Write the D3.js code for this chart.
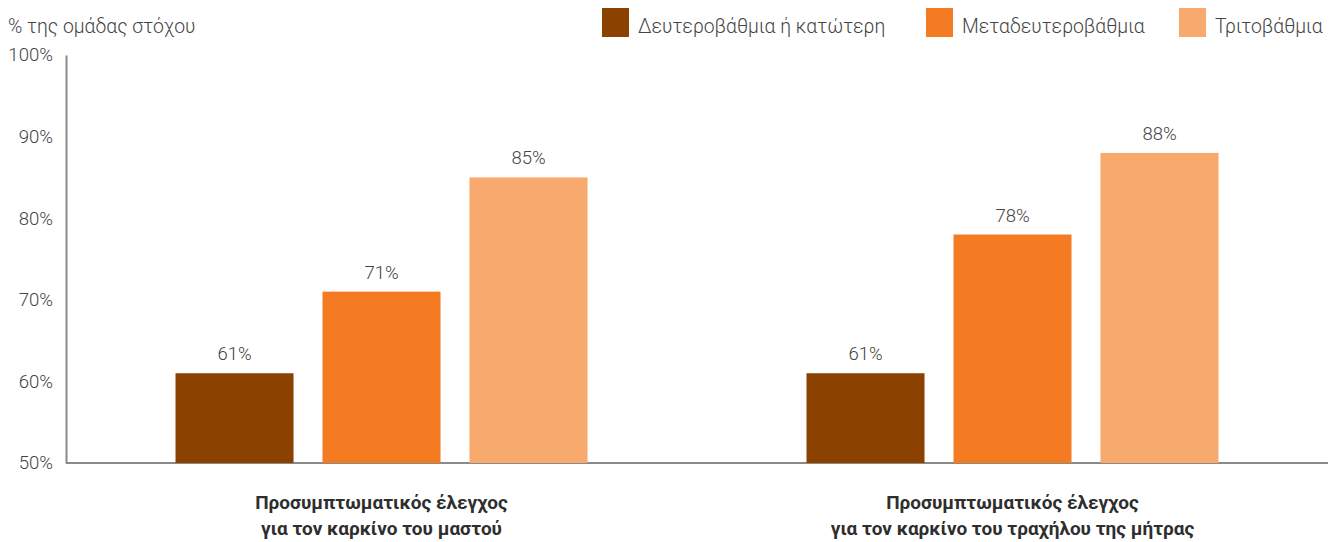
<!DOCTYPE html>
<html><head><meta charset="utf-8">
<script src="https://cdn.jsdelivr.net/npm/d3@7"></script>
<style>body{margin:0;background:#fff;} svg{display:block;}</style>
</head><body>
<svg id="c" width="1341" height="542"></svg>
<script>
const categories = [
  ["Προσυμπτωματικός έλεγχος", "για τον καρκίνο του μαστού"],
  ["Προσυμπτωματικός έλεγχος", "για τον καρκίνο του τραχήλου της μήτρας"]
];
const seriesNames = ["Δευτεροβάθμια ή κατώτερη", "Μεταδευτεροβάθμια", "Τριτοβάθμια"];
const seriesColors = ["#8b4200", "#f47b22", "#f8aa6e"];
const valuesSecondary = [61, 61];
const valuesPostSecondary = [71, 78];
const valuesTertiary = [85, 88];
const yTicks = [50, 60, 70, 80, 90, 100];
const yTitle = "% της ομάδας στόχου";

const seriesValues = [valuesSecondary, valuesPostSecondary, valuesTertiary];
const svg = d3.select("#c");
const font = "Roboto, 'Open Sans', sans-serif";
const textCol = "#444";

const y = d3.scaleLinear().domain([50, 100]).range([463, 55]);
const x0 = d3.scaleBand().domain(d3.range(categories.length)).range([66, 1328]);
const x1 = d3.scaleBand().domain(d3.range(seriesNames.length)).range([109.5, 521.5]).paddingInner(0.197).paddingOuter(0);

// y axis
const yAxis = d3.axisLeft(y).tickValues(yTicks).tickSize(0).tickPadding(13).tickFormat(d => d + "%");
const ga = svg.append("g").attr("transform", "translate(66,0)").call(yAxis);
ga.select(".domain").attr("stroke", "#8a8a8a").attr("stroke-width", 2);
ga.selectAll("text").attr("font-family", font).attr("font-size", 18.6).attr("fill", textCol).attr("font-weight", 300);

// x axis line
svg.append("line").attr("x1", 66).attr("x2", 1328).attr("y1", y(50)).attr("y2", y(50))
  .attr("stroke", "#8a8a8a").attr("stroke-width", 2);

// bars
categories.forEach((cat, ci) => {
  const g = svg.append("g").attr("transform", `translate(${x0(ci)},0)`);
  seriesValues.forEach((vals, si) => {
    const v = vals[ci];
    g.append("rect").attr("x", x1(si)).attr("width", x1.bandwidth())
      .attr("y", y(v)).attr("height", y(50) - y(v)).attr("fill", seriesColors[si]);
    g.append("text").attr("x", x1(si) + x1.bandwidth() / 2).attr("y", y(v) - 13)
      .attr("text-anchor", "middle").attr("font-family", font).attr("font-size", 18.5)
      .attr("font-weight", 300).attr("fill", textCol).text(v + "%");
  });
  const cx = x0(ci) + x0.bandwidth() / 2;
  cat.forEach((line, li) => {
    svg.append("text").attr("x", cx).attr("y", 509 + li * 26).attr("text-anchor", "middle")
      .attr("font-family", font).attr("font-size", 19).attr("font-weight", 700)
      .attr("fill", "#2e2e2e")
      .text(line);
  });
});

// y title
svg.append("text").attr("x", 8).attr("y", 33).attr("font-family", font).attr("font-size", 19.4)
  .attr("font-weight", 300).attr("fill", textCol).text(yTitle);

// legend
const legX = [602, 926, 1179];
seriesNames.forEach((n, i) => {
  svg.append("rect").attr("x", legX[i]).attr("y", 8).attr("width", 27).attr("height", 29).attr("fill", seriesColors[i]);
  svg.append("text").attr("x", legX[i] + 36).attr("y", 33).attr("font-family", font).attr("font-size", 19.4)
    .attr("font-weight", 300).attr("fill", textCol).text(n);
});
</script>
</body></html>
